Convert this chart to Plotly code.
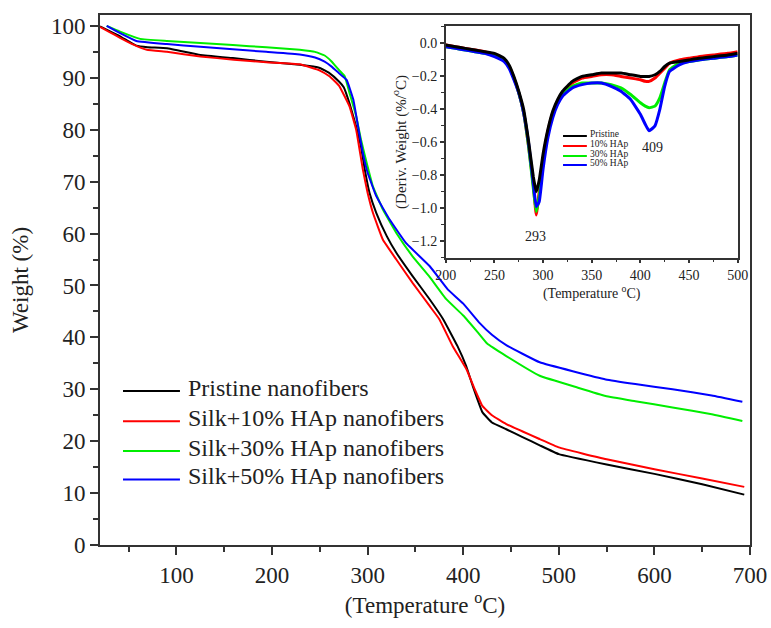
import plotly.graph_objects as go

# ---------------- main TGA data ----------------
pristine_T = [20, 30, 41, 50, 58, 70, 90, 125, 159, 194, 229, 250, 260, 270, 275, 281, 288, 293, 297, 302, 309, 320, 330, 347, 365, 379, 394, 403, 410, 420, 430, 445, 462, 480, 500, 550, 600, 650, 694]
pristine_W = [99.9, 99.0, 98.0, 97.0, 96.2, 95.9, 95.7, 94.4, 93.8, 93.1, 92.5, 91.9, 90.9, 89.3, 88.2, 85.1, 80.6, 76.8, 72.3, 67.8, 64.0, 59.5, 56.3, 51.8, 47.3, 43.5, 38.3, 34.5, 30.6, 25.6, 23.6, 22.3, 20.8, 19.2, 17.5, 15.5, 13.7, 11.7, 9.7]

hap10_T = [20, 30, 41, 55, 69, 90, 125, 160, 194, 229, 250, 260, 270, 281, 288, 295, 300, 305.5, 316, 330, 347, 365, 375, 389, 403.5, 412, 420, 430, 445, 480, 500, 550, 600, 650, 694]
hap10_W = [99.8, 98.8, 97.7, 96.4, 95.4, 95.0, 94.1, 93.5, 93.0, 92.6, 91.4, 90.3, 88.5, 84.5, 80.0, 72.3, 67.8, 64.0, 58.8, 55.0, 50.5, 46.0, 43.5, 38.3, 33.8, 30.0, 26.8, 25.0, 23.3, 20.4, 18.8, 16.5, 14.6, 12.8, 11.2]

hap30_T = [27, 41, 62, 90, 125, 159, 194, 229, 245, 255, 262, 270, 276, 281, 288, 293, 299, 305.5, 316, 330, 347, 365, 382, 400, 415, 425, 445, 480, 520, 549, 580, 619, 660, 692]
hap30_W = [100.0, 98.9, 97.5, 97.1, 96.7, 96.3, 95.9, 95.4, 95.0, 94.3, 93.2, 91.5, 90.3, 87.1, 82.6, 78.1, 73.6, 69.1, 64.6, 60.1, 55.6, 51.6, 47.4, 44.2, 41.0, 38.8, 36.4, 32.6, 30.3, 28.7, 27.7, 26.5, 25.2, 23.9]

hap50_T = [27, 41, 58, 90, 125, 159, 194, 229, 245, 255, 262, 270, 278, 285, 290, 295, 300, 309, 323, 340, 365, 384, 400, 417, 430, 445, 480, 549, 580, 619, 660, 692]
hap50_W = [100.0, 98.6, 97.1, 96.5, 96.0, 95.5, 95.0, 94.5, 93.9, 93.1, 92.2, 90.9, 89.6, 85.8, 80.6, 75.5, 71.7, 67.2, 62.7, 58.2, 53.7, 49.2, 46.5, 42.8, 40.5, 38.5, 35.2, 31.9, 31.0, 30.0, 28.8, 27.6]

main_names = ["Pristine nanofibers", "Silk+10% HAp nanofibers", "Silk+30% HAp nanofibers", "Silk+50% HAp nanofibers"]

# ---------------- inset DTG data ----------------
dtg_T = [200, 210, 220, 230, 240, 250, 260, 265, 270, 275, 280, 285, 290, 293, 296, 300, 305, 310, 315, 320, 330, 340, 350, 360, 370, 380, 390, 400, 405, 409, 415, 420, 425, 430, 440, 450, 460, 475, 490, 500]
dtg_pristine = [-0.01, -0.02, -0.03, -0.04, -0.05, -0.06, -0.09, -0.13, -0.20, -0.29, -0.40, -0.59, -0.81, -0.90, -0.83, -0.67, -0.52, -0.41, -0.34, -0.29, -0.23, -0.20, -0.19, -0.18, -0.18, -0.18, -0.19, -0.20, -0.20, -0.20, -0.19, -0.17, -0.14, -0.12, -0.11, -0.10, -0.09, -0.08, -0.07, -0.06]
dtg_hap10 = [-0.01, -0.02, -0.03, -0.04, -0.05, -0.07, -0.10, -0.14, -0.21, -0.30, -0.42, -0.62, -0.86, -1.04, -0.90, -0.70, -0.53, -0.42, -0.35, -0.30, -0.24, -0.21, -0.20, -0.19, -0.19, -0.20, -0.21, -0.22, -0.23, -0.23, -0.21, -0.18, -0.15, -0.12, -0.10, -0.09, -0.08, -0.07, -0.06, -0.05]
dtg_hap30 = [-0.02, -0.03, -0.04, -0.05, -0.06, -0.07, -0.10, -0.14, -0.21, -0.30, -0.42, -0.62, -0.88, -1.02, -0.93, -0.72, -0.54, -0.43, -0.36, -0.31, -0.26, -0.24, -0.24, -0.24, -0.25, -0.27, -0.31, -0.36, -0.38, -0.39, -0.38, -0.33, -0.24, -0.16, -0.12, -0.11, -0.10, -0.09, -0.08, -0.07]
dtg_hap50 = [-0.02, -0.03, -0.04, -0.05, -0.06, -0.08, -0.11, -0.15, -0.22, -0.30, -0.42, -0.60, -0.85, -0.99, -0.96, -0.76, -0.57, -0.45, -0.37, -0.32, -0.27, -0.25, -0.24, -0.24, -0.26, -0.29, -0.34, -0.43, -0.49, -0.53, -0.50, -0.40, -0.26, -0.17, -0.13, -0.11, -0.10, -0.09, -0.08, -0.07]
inset_names = ["Pristine", "10% HAp", "30% HAp", "50% HAp"]

colors = ["#000000", "#ff0000", "#00ee00", "#0000ff"]
FONT = "Liberation Serif"
TXT = "#222222"

fig = go.Figure()

main_sets = [(pristine_T, pristine_W), (hap10_T, hap10_W), (hap30_T, hap30_W), (hap50_T, hap50_W)]
for (t, w), name, c in zip(main_sets, main_names, colors):
    fig.add_trace(go.Scatter(x=t, y=w, mode="lines", name=name,
                             line=dict(color=c, width=2, shape="spline", smoothing=0.3),
                             xaxis="x", yaxis="y", showlegend=False))

inset_sets = [dtg_pristine, dtg_hap10, dtg_hap30, dtg_hap50]
order = [1, 2, 3, 0]
for i in order:
    fig.add_trace(go.Scatter(x=dtg_T, y=inset_sets[i], mode="lines", name=inset_names[i],
                             line=dict(color=colors[i], width=3, shape="spline", smoothing=0.4),
                             xaxis="x2", yaxis="y2", showlegend=False))

shapes = []
annotations = []

# main legend (key lines + labels, paper coordinates)
main_rows = [0.2905, 0.2335, 0.1775, 0.1235]
for name, c, ry in zip(main_names, colors, main_rows):
    shapes.append(dict(type="line", xref="paper", yref="paper", x0=0.0354, x1=0.123, y0=ry, y1=ry,
                       line=dict(color=c, width=2)))
    annotations.append(dict(x=0.132, y=ry + 0.006, xref="paper", yref="paper", text=name, showarrow=False,
                            xanchor="left", yanchor="middle", font=dict(size=24, family=FONT, color=TXT)))

# inset legend
key_rows = [-0.562, -0.622, -0.683, -0.738]
for name, c, ry in zip(inset_names, colors, key_rows):
    shapes.append(dict(type="line", xref="x2", yref="y2", x0=320.5, x1=345.0, y0=ry, y1=ry,
                       line=dict(color=c, width=2)))
    annotations.append(dict(x=346.5, y=ry + 0.01, xref="x2", yref="y2", text=name, showarrow=False,
                            xanchor="left", yanchor="middle", font=dict(size=9.5, family=FONT, color=TXT)))

annotations += [
    dict(x=292, y=-1.17, xref="x2", yref="y2", text="293", showarrow=False, font=dict(size=14, family=FONT, color=TXT)),
    dict(x=412, y=-0.63, xref="x2", yref="y2", text="409", showarrow=False, font=dict(size=14, family=FONT, color=TXT)),
]

axis_color = "#333333"
fig.update_layout(
    width=771, height=628,
    margin=dict(l=100, r=21, t=15, b=83),
    paper_bgcolor="white", plot_bgcolor="white",
    font=dict(family=FONT, color=TXT, size=20),
    showlegend=False,
    xaxis=dict(domain=[0, 1], range=[20, 700], tick0=0, dtick=100, ticks="outside", ticklen=8, tickwidth=2,
               tickcolor=axis_color, showline=True, linecolor=axis_color, linewidth=2, mirror=True,
               showgrid=False, zeroline=False, tickfont=dict(size=23), automargin=False,
               minor=dict(ticks="outside", ticklen=5, tickwidth=2, tickcolor=axis_color, dtick=50, tick0=0),
               title=dict(text="(Temperature <sup>o</sup>C)", font=dict(size=23), standoff=10),
               anchor="y"),
    yaxis=dict(domain=[0, 1], range=[0, 102.1], dtick=10, ticks="outside", ticklen=8, tickwidth=2,
               tickcolor=axis_color, showline=True, linecolor=axis_color, linewidth=2, mirror=True,
               showgrid=False, zeroline=False, tickfont=dict(size=23), automargin=False,
               minor=dict(ticks="outside", ticklen=5, tickwidth=2, tickcolor=axis_color, dtick=5, tick0=0),
               title=dict(text="Weight (%)", font=dict(size=23), standoff=16),
               anchor="x"),
    xaxis2=dict(domain=[0.532, 0.981], range=[200, 500], dtick=50, ticks="outside", ticklen=4, tickwidth=1.5,
                tickcolor=axis_color, showline=True, linecolor=axis_color, linewidth=1.5, mirror=True,
                showgrid=False, zeroline=False, tickfont=dict(size=14), automargin=False,
                minor=dict(ticks="outside", ticklen=3, tickwidth=1, tickcolor=axis_color, dtick=25),
                title=dict(text="(Temperature <sup>o</sup>C)", font=dict(size=14), standoff=2),
                anchor="y2"),
    yaxis2=dict(domain=[0.542, 0.979], range=[-1.30, 0.105], dtick=0.2, tickformat=".1f", ticks="outside",
                ticklen=4, tickwidth=1.5, tickcolor=axis_color, showline=True, linecolor=axis_color, linewidth=1.5,
                mirror=True, showgrid=False, zeroline=False, tickfont=dict(size=14), automargin=False,
                minor=dict(ticks="outside", ticklen=3, tickwidth=1, tickcolor=axis_color, dtick=0.1),
                title=dict(text="(Deriv. Weight (%/<sup>o</sup>C)", font=dict(size=15), standoff=2),
                anchor="x2"),
    shapes=shapes,
    annotations=annotations,
)

# remove the browser's default 8px body margin so the 771x628 figure fills the window exactly
fig.write_html("out.html", config={"displayModeBar": False},
               post_script="document.body.style.margin='0';document.body.style.overflow='hidden';")
